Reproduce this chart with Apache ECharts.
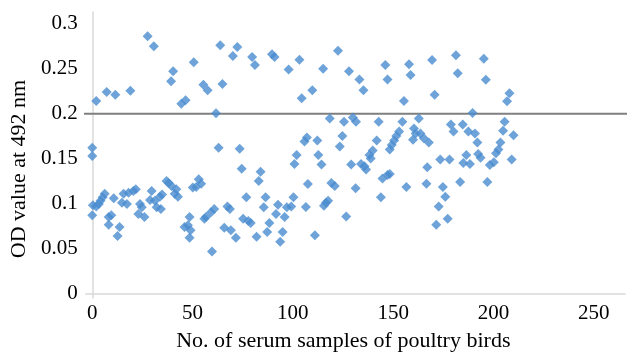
<!DOCTYPE html>
<html>
<head>
<meta charset="utf-8">
<script src="https://cdn.jsdelivr.net/npm/echarts@6/dist/echarts.min.js"></script>
<style>html,body{margin:0;padding:0;background:#fff}#chart{width:634px;height:357px}</style>
</head>
<body>
<div id="chart"></div>
<script>
const xTicks = [0, 50, 100, 150, 200, 250];
const yTicks = [0, 0.05, 0.1, 0.15, 0.2, 0.25, 0.3];
const cutoffValue = 0.2;
const cutoffSpan = [-6.5, 269];
const samples = [
  [0,0.162],[0,0.153],[0,0.087],[0.3,0.098],[2,0.214],[2,0.0966],[3.3,0.0995],[4.1,0.103],[5.2,0.107],[6.2,0.111],
  [7.2,0.224],[8.2,0.085],[9.5,0.087],[8.2,0.0765],[10.7,0.106],[11.5,0.221],[12.6,0.064],[13.6,0.074],[14.8,0.101],[15.6,0.111],
  [17.3,0.0995],[18.1,0.112],[19.0,0.2255],[20.5,0.114],[21.7,0.116],[23.0,0.0885],[23.8,0.0995],[24.7,0.096],[26.0,0.085],[27.6,0.286],
  [28.8,0.104],[29.6,0.114],[30.7,0.275],[31.2,0.103],[32.1,0.096],[33.7,0.1076],[34.2,0.094],[34.8,0.110],[37.0,0.125],[38.1,0.123],
  [39.3,0.236],[39.5,0.1196],[40.3,0.247],[41.1,0.111],[41.9,0.116],[42.7,0.1076],[44.4,0.211],[46.0,0.074],[46.5,0.215],[47.7,0.0758],
  [48.5,0.085],[48.5,0.062],[49.0,0.0703],[50.1,0.118],[50.6,0.257],[51.8,0.1185],[53.1,0.127],[54.3,0.122],[55.4,0.232],[55.9,0.083],
  [56.7,0.085],[57.5,0.226],[59.2,0.0904],[59.7,0.0466],[60.8,0.094],[61.7,0.2005],[63.0,0.162],[63.8,0.276],[64.9,0.233],[65.8,0.073],
  [67.4,0.0966],[68.6,0.094],[69.1,0.0703],[70.1,0.264],[71.6,0.062],[72.3,0.274],[73.5,0.161],[74.5,0.1386],[75.2,0.083],[76.8,0.107],
  [77.8,0.0805],[79.0,0.0783],[79.7,0.263],[81.1,0.254],[81.9,0.063],[83.0,0.125],[83.9,0.1353],[85.5,0.096],[86.4,0.107],[87.2,0.0685],
  [88.3,0.0783],[89.6,0.266],[90.9,0.263],[91.6,0.0885],[92.6,0.0988],[93.7,0.0575],[94.9,0.0685],[95.9,0.085],[97.0,0.096],[97.9,0.249],
  [99.2,0.0966],[100.3,0.107],[100.8,0.144],[101.9,0.154],[103.3,0.260],[104.4,0.217],[105.8,0.169],[106.5,0.0963],[107.0,0.1735],[107.5,0.1217],
  [109.7,0.226],[111.0,0.0649],[112.2,0.170],[112.7,0.154],[114.3,0.1433],[115.1,0.250],[115.5,0.0977],[116.5,0.101],[117.6,0.103],[118.4,0.1945],
  [119.2,0.123],[120.9,0.1196],[122.5,0.270],[123.4,0.1635],[124.7,0.175],[125.5,0.191],[126.6,0.0857],[128.0,0.247],[129.1,0.1433],[129.9,0.1956],
  [131.3,0.117],[131.5,0.191],[133.2,0.238],[134.0,0.144],[135.2,0.226],[135.7,0.1416],[136.5,0.138],[138.2,0.154],[138.8,0.150],[139.8,0.159],
  [141.8,0.170],[142.8,0.191],[143.9,0.107],[144.7,0.128],[146.1,0.254],[147.2,0.238],[147.2,0.1317],[148.3,0.133],[148.3,0.160],[149.3,0.165],
  [150.5,0.170],[151.6,0.175],[153.0,0.180],[154.6,0.191],[155.4,0.214],[156.6,0.1185],[157.9,0.255],[158.7,0.243],[159.9,0.171],[160.4,0.1835],
  [161.2,0.178],[162.8,0.1945],[163.6,0.178],[165.3,0.1726],[166.6,0.122],[167.0,0.1405],[167.8,0.168],[169.4,0.2595],[170.7,0.221],[171.5,0.0765],
  [172.7,0.0966],[173.5,0.149],[174.8,0.1185],[176.0,0.1076],[177.2,0.083],[178.1,0.149],[178.8,0.188],[180.1,0.180],[181.3,0.265],[182.2,0.245],
  [183.4,0.124],[184.7,0.188],[185.0,0.145],[186.5,0.154],[187.5,0.180],[188.3,0.144],[189.6,0.2007],[190.8,0.178],[192.0,0.168],[192.4,0.155],
  [193.6,0.151],[195.2,0.261],[196.2,0.2376],[197.0,0.124],[198.2,0.143],[200.2,0.146],[201.3,0.156],[202.5,0.160],[203.5,0.168],[204.8,0.181],
  [205.6,0.191],[206.8,0.2139],[208.0,0.2226],[209.1,0.149],[210.0,0.176]
];

const chart = echarts.init(document.getElementById('chart'), null, {renderer: 'canvas'});
const font = 'Liberation Serif';
chart.setOption({
  animation: false,
  grid: {left: 80, right: 9, top: 12, bottom: 55, containLabel: false},
  xAxis: {
    type: 'value', min: -3.3, max: 265.6,
    name: 'No. of serum samples of poultry birds',
    nameLocation: 'middle', nameGap: 32,
    nameTextStyle: {fontFamily: font, fontSize: 22, color: '#000', padding: [0, 24, 0, 0]},
    axisLine: {show: true, lineStyle: {color: '#d9d9d9', width: 1.5}},
    axisTick: {show: false},
    splitLine: {show: false},
    axisLabel: {customValues: xTicks, fontFamily: font, fontSize: 21, color: '#000', margin: 5}
  },
  yAxis: {
    type: 'value', min: -0.005, max: 0.313,
    name: 'OD value at 492 nm',
    nameLocation: 'middle', nameGap: 52, nameRotate: 90,
    nameTextStyle: {fontFamily: font, fontSize: 22, color: '#000', padding: [0, 28, 0, 0]},
    axisLine: {show: true, lineStyle: {color: '#d9d9d9', width: 1.5}},
    axisTick: {show: false},
    splitLine: {show: false},
    axisLabel: {customValues: yTicks, fontFamily: font, fontSize: 21, color: '#000', margin: 8}
  },
  series: [
    {
      type: 'line', data: cutoffSpan.map(x => [x, cutoffValue]), clip: false,
      symbol: 'none', lineStyle: {color: '#7f7f7f', width: 2}, silent: true, z: 1
    },
    {
      type: 'scatter', data: samples, symbol: 'diamond', symbolSize: 10,
      itemStyle: {color: '#4a8cd0'}, z: 2
    }
  ]
});
</script>
</body>
</html>
